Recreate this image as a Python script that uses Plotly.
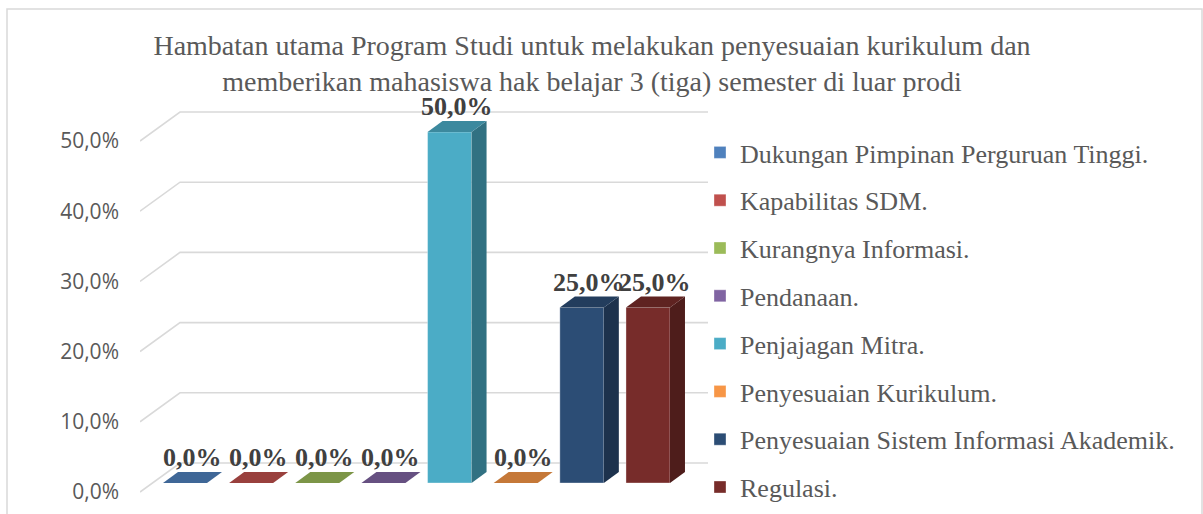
import plotly.graph_objects as go

# ---------------- data ----------------
categories = [
    "Dukungan Pimpinan Perguruan Tinggi.",
    "Kapabilitas SDM.",
    "Kurangnya Informasi.",
    "Pendanaan.",
    "Penjajagan Mitra.",
    "Penyesuaian Kurikulum.",
    "Penyesuaian Sistem Informasi Akademik.",
    "Regulasi.",
]
values = [0.0, 0.0, 0.0, 0.0, 50.0, 0.0, 25.0, 25.0]
colors = ["#4f81bd", "#c0504d", "#9bbb59", "#8064a2",
          "#4bacc6", "#f79646", "#2c4d75", "#772c2a"]
tick_values = [0, 10, 20, 30, 40, 50]
title_text = ("Hambatan utama Program Studi untuk melakukan penyesuaian kurikulum dan<br>"
              "memberikan mahasiswa hak belajar 3 (tiga) semester di luar prodi")


def pct(v):
    return f"{v:.1f}%".replace(".", ",")


# ---------------- layout constants (pixels, measured from top-left) ----------------
W, H = 1203, 560          # figure is taller than the 514px window; the chart is cropped at the bottom
PLOT_L, PLOT_R = 140, 712
PLOT_T, PLOT_B = 95, 500
CAT0_PX, CAT_STEP_PX = 185.0, 66.14
ZERO_PX, PX_PER_PCT = 483.0, 7.02
BAR_W_PX = 44.0
BAR_DX_PX, BAR_DY_PX = 15.0, 11.0
WALL_DX_PX, WALL_DY_PX = 40.0, 29.0
FRONT_OFFSET_PX = 9.0
GRID_END_PX = 708.0

x_range = [(PLOT_L - CAT0_PX) / CAT_STEP_PX, (PLOT_R - CAT0_PX) / CAT_STEP_PX]
y_range = [(ZERO_PX - PLOT_B) / PX_PER_PCT, (ZERO_PX - PLOT_T) / PX_PER_PCT]
front_shift = FRONT_OFFSET_PX / PX_PER_PCT
y2_range = [y_range[0] + front_shift, y_range[1] + front_shift]

bw = BAR_W_PX / CAT_STEP_PX
bdx = BAR_DX_PX / CAT_STEP_PX
bdz = BAR_DY_PX / PX_PER_PCT
wdx = WALL_DX_PX / CAT_STEP_PX
wdz = WALL_DY_PX / PX_PER_PCT
grid_end = (GRID_END_PX - CAT0_PX) / CAT_STEP_PX


def shade(hexc, f):
    h = hexc.lstrip("#")
    r, g, b = (int(h[i:i + 2], 16) for i in (0, 2, 4))
    return "#%02x%02x%02x" % (int(r * f), int(g * f), int(b * f))


fig = go.Figure()

# front faces (bars)
for i, (cat, v, c) in enumerate(zip(categories, values, colors)):
    fig.add_trace(go.Bar(
        x=[i], y=[v], name=cat, width=bw,
        marker=dict(color=c, line=dict(color="rgba(255,255,255,0.35)", width=1)),
        legendgroup=cat, showlegend=True, hoverinfo="name+y",
    ))

# side and top faces
for i, (cat, v, c) in enumerate(zip(categories, values, colors)):
    xl, xr = i - bw / 2, i + bw / 2
    if v > 0:
        fig.add_trace(go.Scatter(
            x=[xr, xr + bdx, xr + bdx, xr, xr],
            y=[0, bdz, v + bdz, v, 0],
            fill="toself", fillcolor=shade(c, 0.66), mode="lines",
            line=dict(width=0), showlegend=False, hoverinfo="skip",
            legendgroup=cat,
        ))
    fig.add_trace(go.Scatter(
        x=[xl, xr, xr + bdx, xl + bdx, xl],
        y=[v, v, v + bdz, v + bdz, v],
        fill="toself", fillcolor=shade(c, 0.8), mode="lines",
        line=dict(width=0), showlegend=False, hoverinfo="skip",
        legendgroup=cat,
    ))

# y2 axis dummy trace for tick labels
fig.add_trace(go.Scatter(x=[None], y=[None], yaxis="y2", showlegend=False,
                         hoverinfo="skip"))

# gridlines on back wall + left wall diagonals
shapes = []
for t in tick_values:
    y_front = t - front_shift
    y_back = y_front + wdz
    shapes.append(dict(
        type="path", xref="x", yref="y", layer="below",
        path=f"M {x_range[0]},{y_front} L {x_range[0] + wdx},{y_back} L {grid_end},{y_back}",
        line=dict(color="#d9d9d9", width=1.6),
    ))
# chart-area border
shapes.append(dict(type="rect", xref="paper", yref="paper",
                   x0=7 / W, x1=1202 / W, y0=-0.05, y1=(H - 9) / H,
                   line=dict(color="#d9d9d9", width=1.5), layer="below"))

# data labels
annotations = []
for i, v in enumerate(values):
    annotations.append(dict(
        x=i + bdx / 2, y=v + bdz, xref="x", yref="y",
        text=f"<b>{pct(v)}</b>", showarrow=False,
        yanchor="bottom", xanchor="center", yshift=-2,
        font=dict(family="Liberation Serif", size=26, color="#404040"),
    ))

fig.update_layout(
    width=W, height=H, autosize=False,
    margin=dict(l=0, r=0, t=0, b=0, autoexpand=False),
    paper_bgcolor="white", plot_bgcolor="rgba(0,0,0,0)",
    barmode="overlay",
    title=dict(text=title_text, x=592 / W, xanchor="center",
               y=1 - 55 / H, yanchor="top",
               font=dict(family="Liberation Serif", size=28, color="#595959")),
    xaxis=dict(domain=[PLOT_L / W, PLOT_R / W], range=x_range, automargin=False,
               showgrid=False, zeroline=False, showticklabels=False,
               showline=False, fixedrange=True),
    yaxis=dict(domain=[(H - PLOT_B) / H, (H - PLOT_T) / H], range=y_range,
               automargin=False,
               showgrid=False, zeroline=False, showticklabels=False,
               showline=False, fixedrange=True),
    yaxis2=dict(overlaying="y", side="left", anchor="x", range=y2_range,
                automargin=False,
                tickvals=tick_values, ticktext=[pct(t) for t in tick_values],
                showgrid=False, zeroline=False, showline=False, ticks="",
                ticklabelstandoff=20,
                tickfont=dict(family="Open Sans", size=21, color="#595959"),
                fixedrange=True),
    legend=dict(x=700 / W, xanchor="left", y=1 - 129 / H, yanchor="top",
                font=dict(family="Liberation Serif", size=26, color="#595959"),
                tracegroupgap=11, bgcolor="rgba(0,0,0,0)"),
    shapes=shapes,
    annotations=annotations,
    showlegend=True,
)

fig.write_html("out.html",
               config={"responsive": False, "displayModeBar": False},
               default_width=f"{W}px", default_height=f"{H}px",
               post_script="document.body.style.margin='0';document.body.style.overflow='hidden';")
